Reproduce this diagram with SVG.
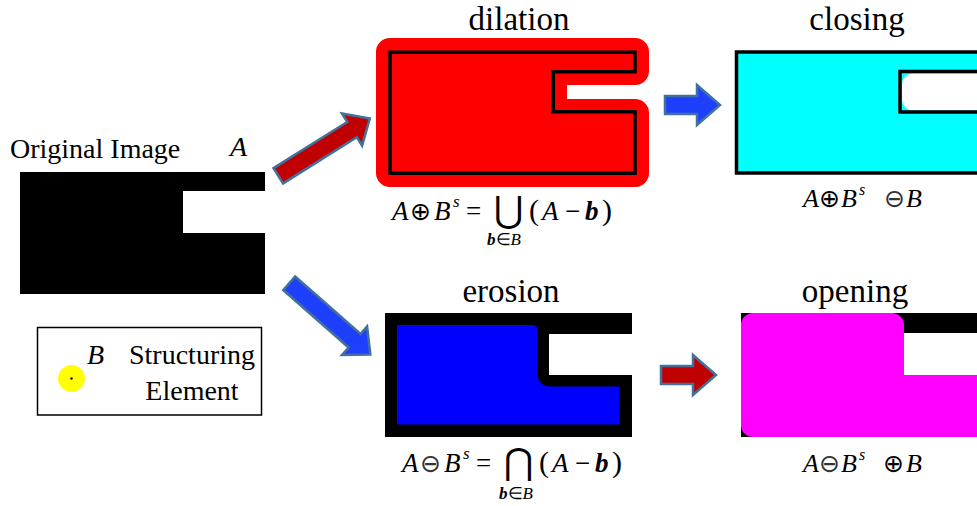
<svg xmlns="http://www.w3.org/2000/svg" width="977" height="506" viewBox="0 0 977 506">
<style>
.t{font-family:"Liberation Serif","Times New Roman",serif;fill:#000}
.title{font-size:33px;text-anchor:middle}
.lbl{font-size:28px}
.it{font-style:italic}
.bi{font-style:italic;font-weight:bold}
.op{font-family:"DejaVu Sans",sans-serif;fill:#000;font-size:25px}
.big{font-family:"DejaVu Sans",sans-serif;fill:#000;font-size:36px}
.lt{fill:#333}
.ra{fill:#C00000;stroke:#41719C;stroke-width:2.5;stroke-linejoin:miter}
.ba{fill:#1F3FFF;stroke:#41719C;stroke-width:2.5;stroke-linejoin:miter}
</style>
<defs>
<polygon id="bigArrow" points="0,-9 87,-9 87,-19 108,0 87,19 87,9 0,9"/>
</defs>
<rect width="977" height="506" fill="#fff"/>

<g id="original">
<text class="t lbl" x="10" y="158">Original Image</text>
<text class="t it" x="230" y="156" font-size="28">A</text>
<path d="M20,172 H265 V191 H183 V233 H265 V294 H20 Z" fill="#000"/>
</g>

<g id="structuring-element">
<rect x="37.5" y="327.5" width="224" height="87.5" fill="#fff" stroke="#000" stroke-width="1.5"/>
<circle cx="71.5" cy="378.5" r="13.5" fill="#FFFF00"/>
<circle cx="71.5" cy="378.5" r="1.2" fill="#000"/>
<text class="t it" x="87" y="364" font-size="28">B</text>
<text class="t lbl" x="192" y="364" text-anchor="middle">Structuring</text>
<text class="t lbl" x="192" y="400" text-anchor="middle">Element</text>
</g>

<g id="dilation">
<text class="t title" x="519" y="30">dilation</text>
<path d="M390,38 H635 A14,14 0 0 1 649,52 V71 A14,14 0 0 1 635,85 H567 V99 H635 A14,14 0 0 1 649,113 V173 A14,14 0 0 1 635,187 H390 A14,14 0 0 1 376,173 V52 A14,14 0 0 1 390,38 Z" fill="#FF0000"/>
<path d="M390,52.3 H635 V71.7 H553.3 V111.7 H635 V173.3 H390 Z" fill="none" stroke="#000" stroke-width="3.5"/>
<g font-size="27">
<text class="t it" x="392" y="220">A</text>
<text class="op" x="410" y="219.5">⊕</text>
<text class="t it" x="434" y="220">B</text>
<text class="t it" x="453" y="207" font-size="17">s</text>
<text class="t" x="466" y="220">=</text>
<text class="big" x="494" y="222">⋃</text>
<text class="t" x="529" y="220" font-size="30">(</text>
<text class="t it" x="542" y="220">A</text>
<text class="t" x="565" y="220">−</text>
<text class="t bi" x="585" y="220">b</text>
<text class="t" x="602" y="220" font-size="30">)</text>
<text class="t" x="487" y="245" font-size="17"><tspan class="bi">b</tspan><tspan>∈</tspan><tspan class="it">B</tspan></text>
</g>
</g>

<g id="closing">
<text class="t title" x="857" y="30">closing</text>
<rect x="737" y="52" width="250" height="121" fill="#00FFFF"/>
<rect x="902" y="73.5" width="90" height="37" rx="11" fill="#fff"/>
<path d="M736.5,52 H985 V71.5 H900 V112 H985 V173 H736.5 Z" fill="none" stroke="#000" stroke-width="3.5"/>
<g font-size="26">
<text class="t it" x="803" y="207">A</text>
<text class="op" x="819" y="206.5">⊕</text>
<text class="t it" x="841" y="207">B</text>
<text class="t it" x="859" y="195" font-size="16">s</text>
<text class="op lt" x="884" y="206.5">⊖</text>
<text class="t it" x="906" y="207">B</text>
</g>
</g>

<g id="erosion">
<text class="t title" x="511" y="302">erosion</text>
<path d="M385,313 H632 V334 H549 V375 H632 V437 H385 Z" fill="#000"/>
<path d="M397,325 H533 A5,5 0 0 1 537.5,330 V374.5 A12,12 0 0 0 549.5,386.5 H619.5 V424.5 H397 Z" fill="#0000FF"/>
<g font-size="27">
<text class="t it" x="402" y="472">A</text>
<text class="op lt" x="420" y="471.5">⊖</text>
<text class="t it" x="444" y="472">B</text>
<text class="t it" x="463" y="459" font-size="17">s</text>
<text class="t" x="476" y="472">=</text>
<text class="big" x="504" y="474">⋂</text>
<text class="t" x="539" y="472" font-size="30">(</text>
<text class="t it" x="552" y="472">A</text>
<text class="t" x="575" y="472">−</text>
<text class="t bi" x="595" y="472">b</text>
<text class="t" x="612" y="472" font-size="30">)</text>
<text class="t" x="499" y="499" font-size="17"><tspan class="bi">b</tspan><tspan>∈</tspan><tspan class="it">B</tspan></text>
</g>
</g>

<g id="opening">
<text class="t title" x="855" y="302">opening</text>
<path d="M741,313 H986 V333 H904 V375 H986 V437 H741 Z" fill="#000"/>
<path d="M753,313 H892 A12,12 0 0 1 904,325 V375 H986 V437 H753 A12,12 0 0 1 741,425 V325 A12,12 0 0 1 753,313 Z" fill="#FF00FF"/>
<g font-size="26">
<text class="t it" x="803" y="472">A</text>
<text class="op lt" x="819" y="471.5">⊖</text>
<text class="t it" x="841" y="472">B</text>
<text class="t it" x="859" y="460" font-size="16">s</text>
<text class="op" x="883" y="471.5">⊕</text>
<text class="t it" x="906" y="472">B</text>
</g>
</g>

<g id="connectors">
<use href="#bigArrow" class="ra" transform="translate(278.3,175.8) rotate(-32.1)"/>
<use href="#bigArrow" class="ba" transform="translate(289.2,283.3) rotate(41.3)"/>
<polygon class="ba" points="665,96 697,96 697,85 720,105 697,125 697,114 665,114"/>
<polygon class="ra" points="661,366 693,366 693,355 716,375 693,395 693,384 661,384"/>
</g>
</svg>
